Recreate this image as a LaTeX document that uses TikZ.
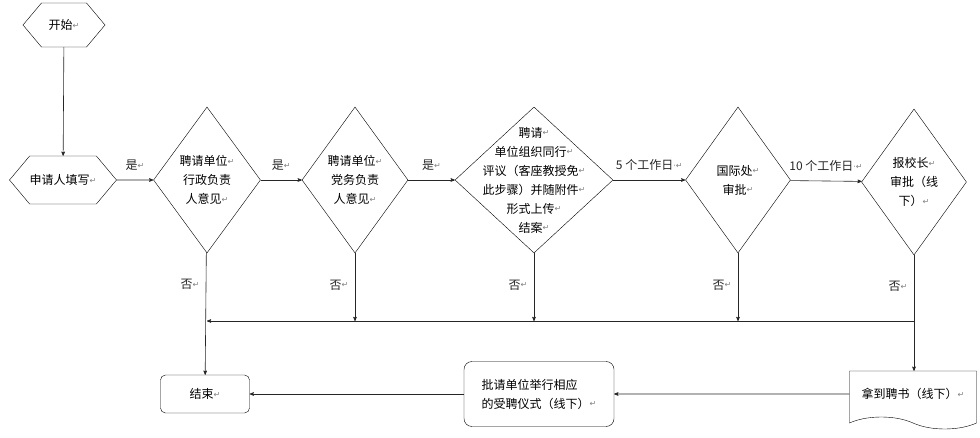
\documentclass[tikz,border=0pt]{standalone}
\usepackage{fontspec}
\setmainfont{Noto Sans CJK SC}
\newfontfamily\symfont{DejaVu Sans}
\usetikzlibrary{shapes,arrows}

\newcommand{\rt}{{\symfont\color{gray}\fontsize{8}{8}\selectfont\raisebox{0.3ex}{↵}}}
\newcommand{\rtd}{{\symfont\color{gray}\fontsize{8}{8}\selectfont\raisebox{0.3ex}{·↵}}}

\begin{document}
\begin{tikzpicture}[x=1pt,y=-1pt,>=stealth',
  every node/.style={font=\fontsize{12}{19}\selectfont},
  hexa/.style={draw,signal,signal to=west and east,signal pointer angle=100,inner sep=0pt},
  choice/.style={draw,diamond,inner sep=0pt,minimum height=146pt},
  box/.style={draw,rounded corners=6pt},
  line/.style={semithick,black!85}]

  \useasboundingbox (0,0) rectangle (980,438);

  % start and applicant
  \node[hexa,minimum width=82pt,minimum height=44pt] (start) at (64,25) {开始\rt};
  \node[hexa,minimum width=102pt,minimum height=48pt] (fill) at (63,180) {申请人填写\rt};

  % decisions
  \node[choice,minimum width=107pt,label={[align=center]center:聘请单位\rt\\行政负责\\人意见\rt}] (d1) at (207,180) {};
  \node[choice,minimum width=106pt,label={[align=center]center:聘请单位\rt\\党务负责\\人意见\rt}] (d2) at (355,180) {};
  \node[choice,minimum width=158pt,label={[align=center]center:聘请\rt\\单位组织同行\rt\\评议（客座教授免\rt\\此步骤）并随附件\rt\\形式上传\rt\\结案\rt}] (d3) at (534,180) {};
  \node[choice,minimum width=105pt,label={[align=center]center:国际处\rt\\审批\rt}] (d4) at (738,180) {};
  \node[choice,minimum width=105pt,label={[align=center]center:报校长\rt\\审批（线\\下）\rt}] (d5) at (914,182) {};

  % bottom row
  \node[box,minimum width=89pt,minimum height=38pt,rounded corners=5pt] (end) at (205,394) {结束\rt};
  \node[box,align=left,minimum width=150pt,minimum height=65pt,rounded corners=8pt] (cer) at (539,394) {批请单位举行相应\\的受聘仪式（线下）\rt};
  \node[draw,tape,tape bend top=none,tape bend bottom=out and in,tape bend height=12pt,
        minimum width=127pt,minimum height=58pt] (doc) at (913,394) {拿到聘书（线下）\rt};

  \coordinate (bus) at (0,321);

  % yes path
  \draw[line,->] (start) -- (fill);
  \draw[line,->] (fill) -- node[above=6pt]{是\rt} (d1);
  \draw[line,->] (d1) -- node[above=6pt]{是\rt} (d2);
  \draw[line,->] (d2) -- node[above=6pt]{是\rt} (d3);
  \draw[line,->] (d3) -- node[above=6pt]{5 个工作日\rtd} (d4);
  \draw[line,->] (d4) -- node[above=6pt]{10 个工作日\rtd} (d5);

  % no path
  \draw[line,->] (d1) -- node[pos=0.26,left=3pt]{否\rt} (end);
  \draw[line,->] (d2) -- node[pos=0.47,left=3pt]{否\rt} (d2.south |- bus);
  \draw[line,->] (d3) -- node[pos=0.47,left=3pt]{否\rt} (d3.south |- bus);
  \draw[line,->] (d4) -- node[pos=0.47,left=3pt]{否\rt} (d4.south |- bus);
  \draw[line,->] (d5) -- node[pos=0.27,left=3pt]{否\rt} (d5.south |- doc.north);
  \draw[line,->] (d5.south |- bus) -- (d1.south |- bus);

  % ending
  \draw[line,->] (doc) -- (cer);
  \draw[line,->] (cer) -- (end);

\end{tikzpicture}
\end{document}
